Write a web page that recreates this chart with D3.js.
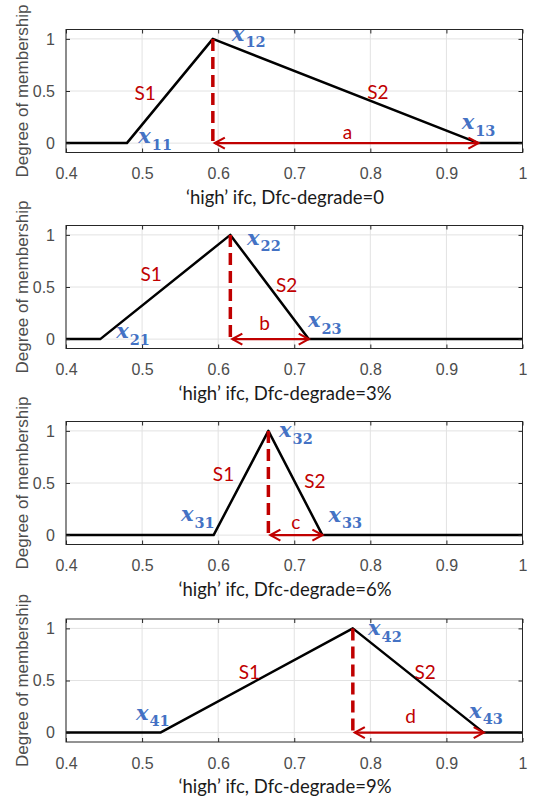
<!DOCTYPE html>
<html>
<head>
<meta charset="utf-8">
<script src="https://cdn.jsdelivr.net/npm/d3@7"></script>
<style>
  html, body { margin: 0; padding: 0; background: #fff; }
  svg { display: block; }
</style>
</head>
<body>
<svg id="chart" width="538" height="798"></svg>
<script>
// ---------- data ----------
const lowerBounds = [0.480, 0.445, 0.594, 0.524];   // x_i1
const peaks       = [0.593, 0.616, 0.666, 0.777];   // x_i2
const upperBounds = [0.942, 0.719, 0.737, 0.949];   // x_i3
const xLabels = [
  "\u2018high\u2019 ifc, Dfc-degrade=0",
  "\u2018high\u2019 ifc, Dfc-degrade=3%",
  "\u2018high\u2019 ifc, Dfc-degrade=6%",
  "\u2018high\u2019 ifc, Dfc-degrade=9%"
];
const yLabel = "Degree of membership";
const xTicks = [0.4, 0.5, 0.6, 0.7, 0.8, 0.9, 1];
const yTicks = [0, 0.5, 1];
const xDomain = [0.4, 1];
const yDomain = [-0.09, 1.09];
const distLabels = ["a", "b", "c", "d"];
// annotation anchors in data units: [x, y]
const pointLabelPos = [
  [[0.495, 0.000], [0.618, 0.984], [0.920, 0.134]],
  [[0.466, 0.010], [0.638, 0.904], [0.718, 0.115]],
  [[0.551, 0.134], [0.680, 0.937], [0.745, 0.128]],
  [[0.492, 0.122], [0.797, 0.936], [0.930, 0.141]]
];
const s1Pos = [[0.504, 0.488], [0.512, 0.630], [0.607, 0.594], [0.641, 0.590]];
const s2Pos = [[0.810, 0.500], [0.690, 0.520], [0.727, 0.527], [0.872, 0.585]];
const distPos = [[0.770, 0.043], [0.661, 0.087], [0.702, 0.058], [0.853, 0.093]];

// ---------- layout ----------
const svg = d3.select("#chart");
svg.append("rect").attr("width", 538).attr("height", 798).attr("fill", "#fff");

const plotLeft = 66, plotRight = 522.5, plotH = 123;
const panelTops = [29.5, 225.5, 421.5, 619];
const red = "#c00000", blue = "#4472c4", axisCol = "#262626", tickTextCol = "#4d4d4d";

const x = d3.scaleLinear().domain(xDomain).range([plotLeft, plotRight]);

panelTops.forEach((top, i) => {
  const y = d3.scaleLinear().domain(yDomain).range([top + plotH, top]);
  const g = svg.append("g");

  // grid
  g.append("g").selectAll("line").data(xTicks).join("line")
    .attr("x1", d => x(d)).attr("x2", d => x(d))
    .attr("y1", top).attr("y2", top + plotH)
    .attr("stroke", "#e2e2e2").attr("stroke-width", 1);
  g.append("g").selectAll("line").data(yTicks).join("line")
    .attr("x1", plotLeft).attr("x2", plotRight)
    .attr("y1", d => y(d)).attr("y2", d => y(d))
    .attr("stroke", "#e2e2e2").attr("stroke-width", 1);

  // membership function
  const pts = [[xDomain[0], 0], [lowerBounds[i], 0], [peaks[i], 1], [upperBounds[i], 0], [xDomain[1], 0]];
  g.append("path")
    .attr("d", d3.line().x(d => x(d[0])).y(d => y(d[1]))(pts))
    .attr("fill", "none").attr("stroke", "#000").attr("stroke-width", 2.5)
    .attr("stroke-linejoin", "round");

  // dashed vertical at peak
  g.append("line")
    .attr("x1", x(peaks[i])).attr("x2", x(peaks[i]))
    .attr("y1", y(1)).attr("y2", y(-0.035))
    .attr("stroke", red).attr("stroke-width", 3.5)
    .attr("stroke-dasharray", "12,6");

  // double arrow
  const ax0 = x(peaks[i]) + 2, ax1 = x(upperBounds[i]), ay = y(0);
  g.append("line").attr("x1", ax0).attr("x2", ax1).attr("y1", ay).attr("y2", ay)
    .attr("stroke", red).attr("stroke-width", 2.2);
  const head = (tx, dir) => `M${tx + dir * 10},${ay - 5.5} L${tx},${ay} L${tx + dir * 10},${ay + 5.5}`;
  g.append("path").attr("d", head(ax0, 1) + " " + head(ax1, -1))
    .attr("fill", "none").attr("stroke", red).attr("stroke-width", 2.2)
    .attr("stroke-linejoin", "miter");

  // axes
  const xb = d3.axisBottom(x).tickValues(xTicks).tickSize(-4).tickFormat(d3.format("~g"));
  const xt = d3.axisTop(x).tickValues(xTicks).tickSize(-4).tickFormat("");
  const yl = d3.axisLeft(y).tickValues(yTicks).tickSize(-4).tickPadding(11).tickFormat(d3.format("~g"));
  const yr = d3.axisRight(y).tickValues(yTicks).tickSize(-4).tickFormat("");
  const gb = g.append("g").attr("transform", `translate(0,${top + plotH})`).call(xb);
  g.append("g").attr("transform", `translate(0,${top})`).call(xt);
  g.append("g").attr("transform", `translate(${plotLeft},0)`).call(yl);
  g.append("g").attr("transform", `translate(${plotRight},0)`).call(yr);
  g.selectAll(".domain").remove();
  g.selectAll(".tick line").attr("stroke", axisCol);
  gb.selectAll("text").attr("y", 26.5).attr("dy", 0);
  g.selectAll(".tick text")
    .attr("font-family", "'Liberation Sans', Arial, sans-serif")
    .attr("font-size", 16).attr("fill", tickTextCol);

  // box
  g.append("rect").attr("x", plotLeft).attr("y", top)
    .attr("width", plotRight - plotLeft).attr("height", plotH)
    .attr("fill", "none").attr("stroke", axisCol).attr("stroke-width", 1);

  // axis labels
  g.append("text").attr("x", 285).attr("y", top + plotH + 51)
    .attr("text-anchor", "middle")
    .attr("font-family", "Lato, 'Open Sans', sans-serif").attr("font-size", 18.5)
    .attr("fill", "#1a1a1a").text(xLabels[i]);
  g.append("text")
    .attr("transform", `translate(28,${top + plotH / 2}) rotate(-90)`)
    .attr("text-anchor", "middle")
    .attr("font-family", "'Liberation Sans', Arial, sans-serif").attr("font-size", 17)
    .attr("fill", tickTextCol).text(yLabel);

  // S1 / S2 / distance labels
  const redText = (pos, txt, base) => g.append("text")
    .attr("x", x(pos[0])).attr("y", y(pos[1]))
    .attr("text-anchor", "middle")
    .attr("dominant-baseline", base ? "alphabetic" : "central")
    .attr("font-family", "Lato, 'Open Sans', sans-serif").attr("font-size", 19)
    .attr("fill", red).text(txt);
  redText(s1Pos[i], "S1", false);
  redText(s2Pos[i], "S2", false);
  redText(distPos[i], distLabels[i], true);

  // x_ij labels
  pointLabelPos[i].forEach((p, j) => {
    const t = g.append("text").attr("x", x(p[0])).attr("y", y(p[1]))
      .attr("font-family", "'DejaVu Serif', serif").attr("fill", blue);
    t.append("tspan").attr("font-style", "italic").attr("font-weight", "bold")
      .attr("font-size", 21).text("x");
    t.append("tspan").attr("dy", 6.5).attr("dx", 1).attr("font-size", 14.5)
      .attr("font-weight", "bold").text(`${i + 1}${j + 1}`);
  });
});
</script>
</body>
</html>
